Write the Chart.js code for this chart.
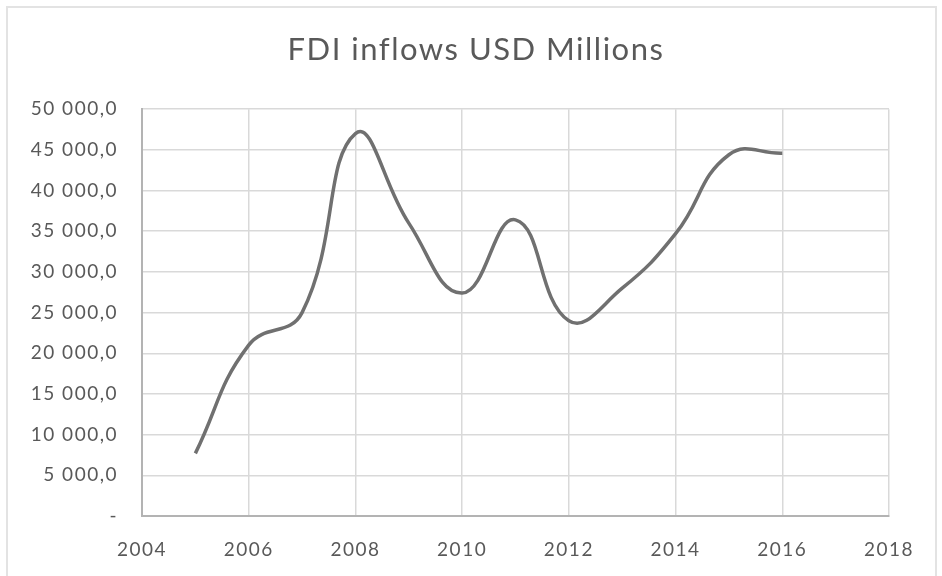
<!DOCTYPE html>
<html>
<head>
<meta charset="utf-8">
<script src="https://cdn.jsdelivr.net/npm/chart.js@4/dist/chart.umd.min.js"></script>
<style>
  html, body { margin: 0; padding: 0; background: #ffffff; }
  #wrap { width: 942px; height: 576px; position: relative; }
</style>
</head>
<body>
<div id="wrap"><canvas id="c" width="942" height="576"></canvas></div>
<script>
// FDI inflows, USD millions, by year
const years = [2005, 2006, 2007, 2008, 2009, 2010, 2011, 2012, 2013, 2014, 2015, 2016];
const inflows = [7700, 21000, 25000, 47000, 36000, 27400, 36400, 24000, 28000, 34700, 44400, 44600];
const chartTitle = 'FDI inflows USD Millions';

function fmtThousands(v) {
  if (v === 0) return '-';
  const s = Math.round(v).toString().replace(/\B(?=(\d{3})+(?!\d))/g, ' ');
  return s + ',0';
}

// Slightly tracked-out lettering for all chart text
const spacingPlugin = {
  id: 'spacing',
  beforeUpdate(chart) { chart.ctx.letterSpacing = '1.5px'; },
  beforeDraw(chart) { chart.ctx.letterSpacing = '1.5px'; }
};

// White background and light frame around the whole figure
const framePlugin = {
  id: 'frame',
  beforeDraw(chart) {
    const ctx = chart.ctx;
    ctx.save();
    ctx.fillStyle = '#ffffff';
    ctx.fillRect(0, 0, chart.width, chart.height);
    ctx.strokeStyle = '#e3e3e3';
    ctx.lineWidth = 2;
    ctx.strokeRect(7, 7, 929, chart.height + 10);
    ctx.restore();
  }
};

new Chart(document.getElementById('c'), {
  type: 'line',
  data: {
    datasets: [{
      data: years.map((y, i) => ({ x: y, y: inflows[i] })),
      borderColor: '#707070',
      borderWidth: 3.5,
      pointRadius: 0,
      tension: 0.45,
      fill: false
    }]
  },
  options: {
    responsive: false,
    animation: false,
    layout: { padding: { left: 10, right: 0, top: 0, bottom: 0 } },
    plugins: {
      legend: { display: false },
      tooltip: { enabled: false },
      title: {
        display: true,
        text: chartTitle,
        color: '#595959',
        font: { family: 'Lato', size: 31, weight: 'normal', lineHeight: 1.2 },
        padding: { top: 31, bottom: 41 }
      }
    },
    scales: {
      x: {
        type: 'linear',
        min: 2004,
        max: 2018,
        ticks: {
          stepSize: 2,
          color: '#595959',
          font: { family: 'Lato', size: 19 },
          padding: 22,
          callback: v => String(v)
        },
        grid: { color: '#d9d9d9', lineWidth: 1.5, drawTicks: false },
        border: { color: '#b3b3b3', width: 2 },
        afterFit(scale) { scale.height = 60; }
      },
      y: {
        min: 0,
        max: 50000,
        ticks: {
          stepSize: 5000,
          color: '#595959',
          font: { family: 'Lato', size: 19 },
          padding: 24,
          callback: v => fmtThousands(v)
        },
        grid: { color: '#d9d9d9', lineWidth: 1.5, drawTicks: false },
        border: { color: '#b3b3b3', width: 2 },
        afterFit(scale) { scale.width = 132; }
      },
      yRight: {
        position: 'right',
        display: true,
        min: 0,
        max: 50000,
        ticks: { display: false },
        grid: { display: false, drawTicks: false },
        border: { display: false },
        afterFit(scale) { scale.width = 53; }
      }
    }
  },
  plugins: [spacingPlugin, framePlugin]
});
</script>
</body>
</html>
